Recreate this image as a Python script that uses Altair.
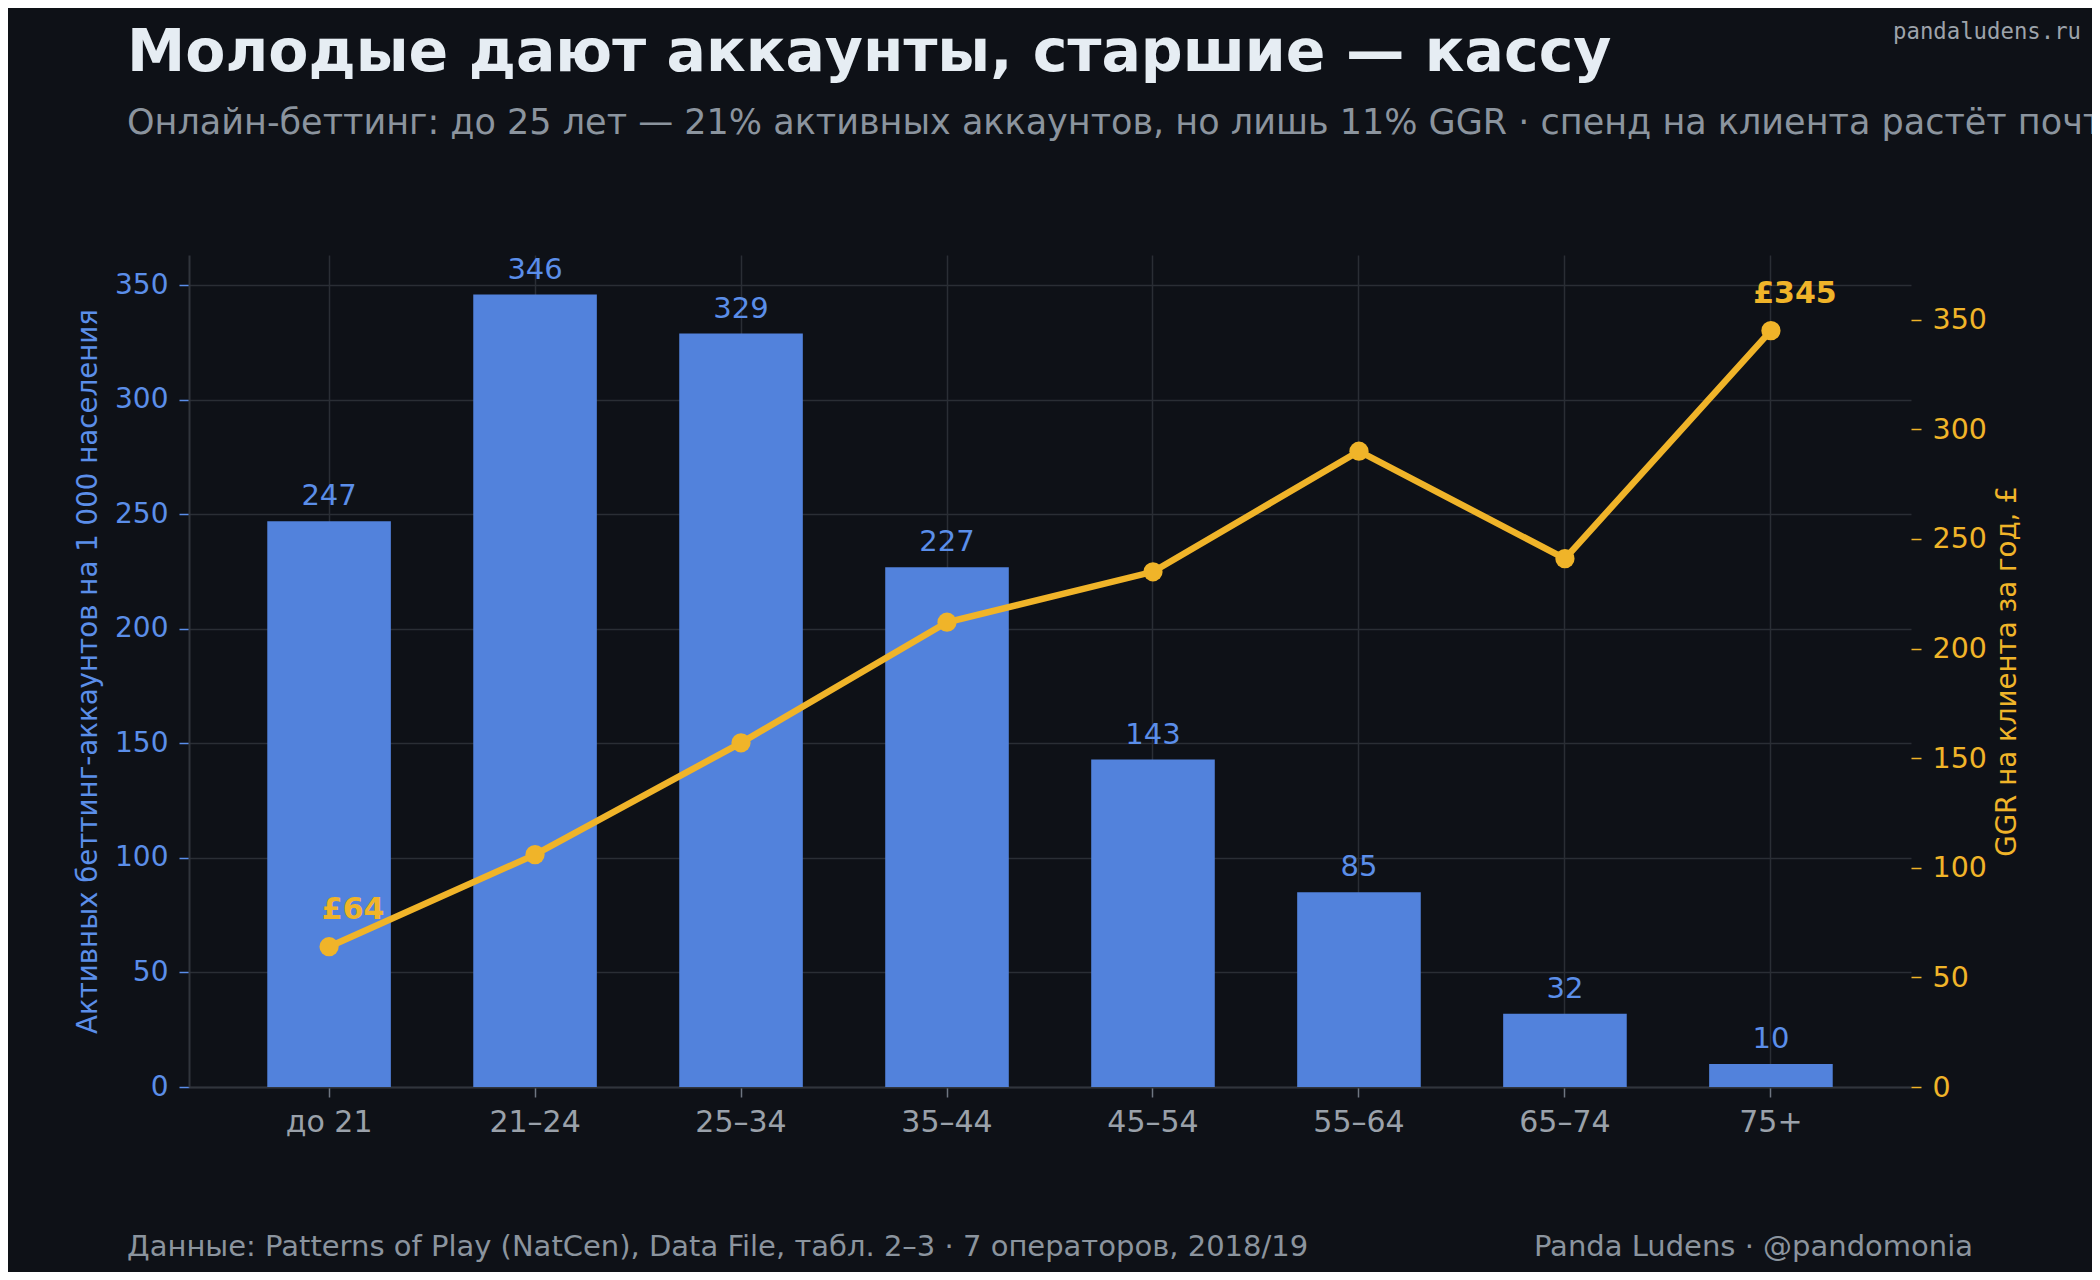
import altair as alt
import pandas as pd

# ---- data ----
groups = ["до 21", "21–24", "25–34", "35–44", "45–54", "55–64", "65–74", "75+"]
accounts = [247, 346, 329, 227, 143, 85, 32, 10]
ggr = [64, 106, 157, 212, 235, 290, 241, 345]
ggr_labels = ["£64", "", "", "", "", "", "", "£345"]

title_text = "Молодые дают аккаунты, старшие — кассу"
subtitle_text = ("Онлайн-беттинг: до 25 лет — 21% активных аккаунтов, но лишь 11% GGR · "
                 "спенд на клиента растёт почти в 5 раз к 75+")
footer_left = "Данные: Patterns of Play (NatCen), Data File, табл. 2–3 · 7 операторов, 2018/19"
footer_right = "Panda Ludens · @pandomonia"
watermark = "pandaludens.ru"
y_left_title = "Активных беттинг-аккаунтов на 1 000 населения"
y_right_title = "GGR на клиента за год, £"

# ---- styling ----
BG = "#0e1117"
BLUE = "#5282dc"
BLUE_TXT = "#5b8ee9"
GOLD = "#f0b429"
GRID = "#2a2e35"
DOMAIN = "#30353c"
GRAY = "#9aa1aa"
SUB = "#8b949e"
TITLE = "#e6edf3"
FONT = "DejaVu Sans"

W, H = 1722, 832

df = pd.DataFrame({"group": groups, "accounts": accounts, "ggr": ggr, "lab": ggr_labels})
one = pd.DataFrame({"k": [0]})

x_enc = alt.X(
    "group:N", sort=groups, title=None,
    scale=alt.Scale(type="band", paddingInner=0.4, paddingOuter=0.38),
    axis=alt.Axis(labelAngle=0, labelColor=GRAY, labelFontSize=30, labelPadding=10,
                  tickColor="#6e7681", tickSize=10, tickWidth=1.5,
                  domainColor=DOMAIN, domainWidth=2, grid=True, gridColor=GRID,
                  gridWidth=1.5, bandPosition=0.5),
)

axis_left = alt.Axis(
    title=y_left_title, titleColor=BLUE_TXT, titleFontSize=27.7, titleFontWeight="normal",
    titleX=-101, titleY=H / 2, titleAngle=270, titleAlign="center", titleBaseline="middle",
    values=[0, 50, 100, 150, 200, 250, 300, 350], labelColor=BLUE_TXT, labelFontSize=28,
    labelPadding=11, tickColor=BLUE_TXT, tickSize=10, tickWidth=1.5,
    domainColor=DOMAIN, domainWidth=2, grid=True, gridColor=GRID, gridWidth=1.5,
    orient="left",
)
axis_right = alt.Axis(
    title=y_right_title, titleColor=GOLD, titleFontSize=27.7, titleFontWeight="normal",
    titleX=96, titleY=H / 2, titleAngle=270, titleAlign="center", titleBaseline="middle",
    values=[0, 50, 100, 150, 200, 250, 300, 350], labelColor=GOLD, labelFontSize=28.5,
    labelPadding=11, tickColor=GOLD, tickSize=10, tickWidth=1.5,
    domain=False, grid=False, orient="right",
)

yL = alt.Y("accounts:Q", scale=alt.Scale(domain=[0, 363.3], nice=False, zero=True), axis=axis_left)
yR = alt.Y("ggr:Q", scale=alt.Scale(domain=[0, 379.5], nice=False, zero=True), axis=axis_right)

base = alt.Chart(df)
bars = base.mark_bar(color=BLUE).encode(x=x_enc, y=yL)
bar_txt = base.mark_text(color=BLUE_TXT, fontSize=29, dy=-16, baseline="alphabetic",
                         font=FONT).encode(x=x_enc, y=yL, text=alt.Text("accounts:Q", format="d"))
left = alt.layer(bars, bar_txt)

line = base.mark_line(color=GOLD, strokeWidth=6.5).encode(x=x_enc, y=yR)
pts = base.mark_circle(color=GOLD, size=370, opacity=1).encode(x=x_enc, y=yR)
ann = base.mark_text(color=GOLD, fontSize=30, fontWeight="bold", dx=24, dy=-28,
                     baseline="alphabetic", font=FONT).encode(x=x_enc, y=yR, text="lab:N")
right = alt.layer(line, pts, ann)


def free_text(txt, x, y, size, color, weight="normal", align="left", font=FONT):
    return alt.Chart(one).mark_text(
        text=txt, fontSize=size, color=color, fontWeight=weight, align=align,
        baseline="alphabetic", font=font,
    ).encode(x=alt.value(x), y=alt.value(y))


texts = alt.layer(
    free_text(title_text, -62, -184, 58.5, TITLE, weight="bold"),
    free_text(subtitle_text, -62, -121, 35, SUB),
    free_text(watermark, 1892, -216, 22.3, "#9da3ab", align="right", font="DejaVu Sans Mono"),
    free_text(footer_left, -62, 1001, 29, SUB),
    free_text(footer_right, 1784, 1001, 29, SUB, align="right"),
)

chart = alt.layer(left, right, texts).resolve_scale(y="independent").properties(
    width=W, height=H,
    autosize=alt.AutoSizeParams(type="none"),
    padding={"left": 181, "top": 247, "right": 181, "bottom": 185},
    background=BG,
).configure(font=FONT).configure_view(strokeWidth=0, strokeOpacity=0)

chart.save("out.html", embed_options={"renderer": "svg", "actions": False})
